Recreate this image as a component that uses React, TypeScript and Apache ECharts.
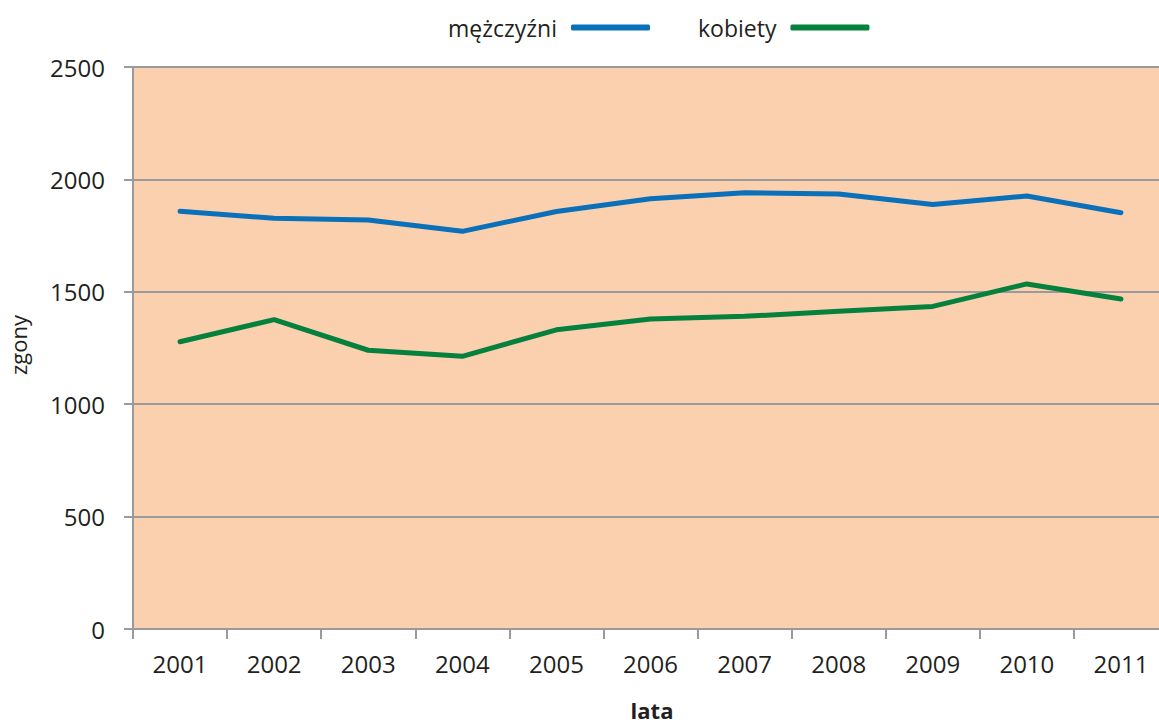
import React, { useEffect, useRef } from "react";
import * as echarts from "echarts";

const years = ["2001", "2002", "2003", "2004", "2005", "2006", "2007", "2008", "2009", "2010", "2011"];
const men = [1858, 1827, 1819, 1769, 1857, 1914, 1941, 1935, 1888, 1926, 1852];
const women = [1278, 1376, 1240, 1213, 1331, 1379, 1391, 1413, 1435, 1535, 1468];
const seriesNames = ["mężczyźni", "kobiety"];
const xAxisTitle = "lata";
const yAxisTitle = "zgony";

const FONT = "'Open Sans', 'Noto Sans', sans-serif";
const GRAY = "#9a9a9c";
const TEXT = "#231f20";

export default function App() {
  const ref = useRef<HTMLDivElement>(null);
  useEffect(() => {
    if (!ref.current) return;
    const chart = echarts.init(ref.current, null, { renderer: "svg" });
    chart.setOption({
      animation: false,
      textStyle: { fontFamily: FONT },
      legend: {
        left: 443,
        top: 11,
        align: "right",
        icon: "roundRect",
        itemWidth: 79,
        itemHeight: 6,
        itemGap: 48,
        textStyle: { fontSize: 23, color: TEXT, fontFamily: FONT, padding: [0, 9, 0, 0] },
        data: seriesNames,
      },
      grid: {
        left: 133,
        right: -9,
        top: 67,
        bottom: 95,
        show: true,
        backgroundColor: "#fad0ae",
        borderWidth: 0,
        containLabel: false,
        outerBoundsMode: "none",
      },
      graphic: [
        {
          type: "text",
          x: 652,
          y: 710,
          style: {
            text: xAxisTitle,
            fontSize: 22,
            fontWeight: "bold",
            fontFamily: FONT,
            fill: TEXT,
            textAlign: "center",
            textVerticalAlign: "middle",
          },
        },
        {
          type: "text",
          x: 18,
          y: 345,
          rotation: Math.PI / 2,
          style: {
            text: yAxisTitle,
            fontSize: 22,
            fontFamily: FONT,
            fill: TEXT,
            textAlign: "center",
            textVerticalAlign: "middle",
          },
        },
      ],
      xAxis: {
        type: "category",
        data: years,
        boundaryGap: true,
        axisLine: { show: true, lineStyle: { color: GRAY, width: 2 } },
        axisTick: { show: true, length: 10, interval: 0, lineStyle: { color: GRAY, width: 2 } },
        axisLabel: { margin: 22, fontSize: 24, color: TEXT, fontFamily: FONT, interval: 0 },
        splitLine: { show: false },
      },
      yAxis: {
        type: "value",
        min: 0,
        max: 2500,
        interval: 500,
        axisLine: { show: true, lineStyle: { color: GRAY, width: 2 } },
        axisTick: { show: true, length: 9, lineStyle: { color: GRAY, width: 2 } },
        axisLabel: { margin: 28, fontSize: 24, color: TEXT, fontFamily: FONT, formatter: (v: number) => String(v) },
        splitLine: { show: true, lineStyle: { color: GRAY, width: 2 } },
      },
      series: [
        {
          name: seriesNames[0],
          type: "line",
          data: men,
          symbol: "none",
          color: "#0a70ba",
          lineStyle: { width: 5, color: "#0a70ba", cap: "round", join: "round" },
        },
        {
          name: seriesNames[1],
          type: "line",
          data: women,
          symbol: "none",
          color: "#06803d",
          lineStyle: { width: 5, color: "#06803d", cap: "round", join: "round" },
        },
      ],
    });
    return () => chart.dispose();
  }, []);
  return (
    <div
      ref={ref}
      style={{ position: "absolute", left: 0, top: 0, width: 1159, height: 724, background: "#ffffff" }}
    />
  );
}
